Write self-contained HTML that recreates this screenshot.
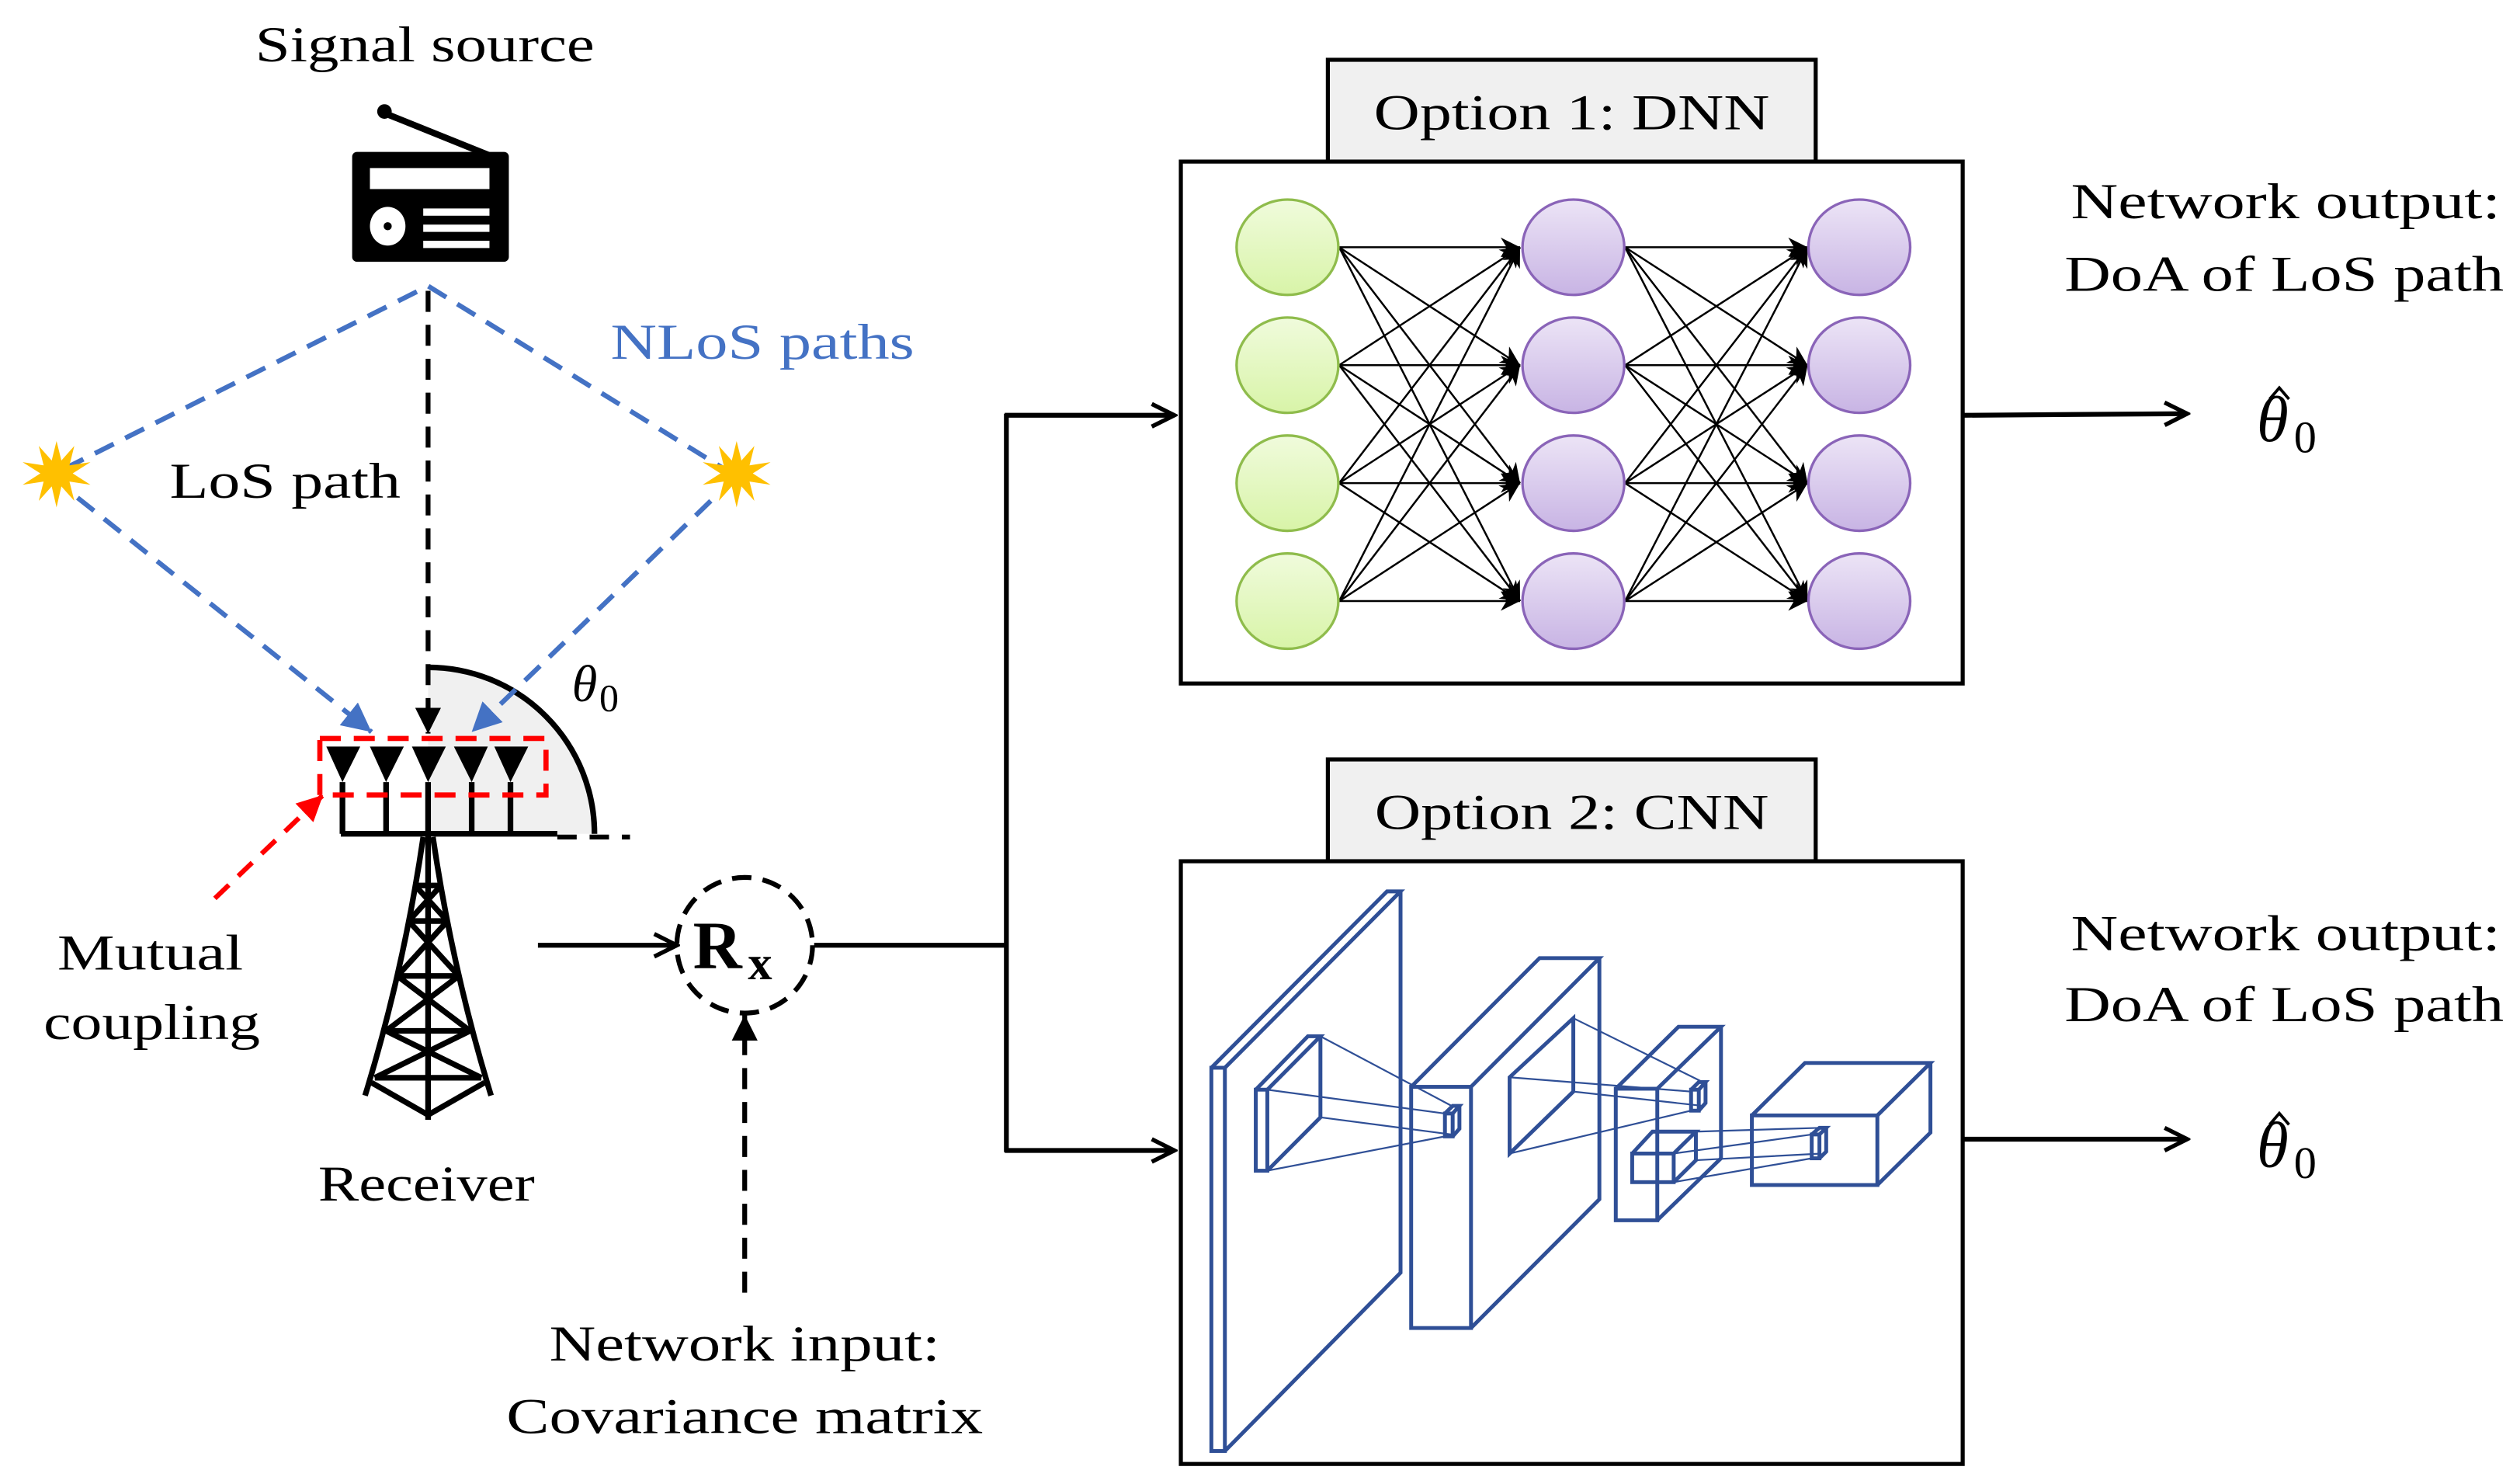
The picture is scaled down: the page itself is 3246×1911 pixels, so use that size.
<!DOCTYPE html>
<html><head><meta charset="utf-8"><style>
html,body{margin:0;padding:0;background:#fff;}
svg{display:block;}
text{font-family:"Liberation Serif",serif;}
</style></head><body>
<svg width="3246" height="1911" viewBox="0 0 1560 918.4" xmlns="http://www.w3.org/2000/svg">
<defs>
<marker id="open" viewBox="0 0 20 20" refX="18" refY="10" markerWidth="20" markerHeight="20" markerUnits="userSpaceOnUse" orient="auto"><path d="M4 3 L18 10 L4 17" fill="none" stroke="#000" stroke-width="2.6"/></marker>
<marker id="tri" viewBox="0 0 10 10" refX="10" refY="5" markerWidth="16" markerHeight="16" markerUnits="userSpaceOnUse" orient="auto"><path d="M0 0 L10 5 L0 10 z" fill="#000"/></marker>
<marker id="blue" viewBox="0 0 10 10" refX="10" refY="5" markerWidth="18" markerHeight="18" markerUnits="userSpaceOnUse" orient="auto"><path d="M0 0 L10 5 L0 10 z" fill="#4472c4"/></marker>
<marker id="red" viewBox="0 0 10 10" refX="10" refY="5" markerWidth="16" markerHeight="16" markerUnits="userSpaceOnUse" orient="auto"><path d="M0 0 L10 5 L0 10 z" fill="#f00"/></marker>
<marker id="sm" viewBox="0 0 10 10" refX="10" refY="5" markerWidth="12" markerHeight="12" markerUnits="userSpaceOnUse" orient="auto"><path d="M0 0 L10 5 L0 10 L3 5 z" fill="#000"/></marker>
<linearGradient id="g" x1="0" y1="0" x2="0" y2="1"><stop offset="0" stop-color="#f0fbdc"/><stop offset="1" stop-color="#d8f4a8"/></linearGradient>
<linearGradient id="p" x1="0" y1="0" x2="0" y2="1"><stop offset="0" stop-color="#ece4f6"/><stop offset="1" stop-color="#c8b4e4"/></linearGradient>
</defs>

<text x="263" y="38" font-size="31" text-anchor="middle" textLength="210" lengthAdjust="spacingAndGlyphs">Signal source</text>
<line x1="238" y1="70" x2="305" y2="97" stroke="#000" stroke-width="4"/>
<circle cx="238" cy="69" r="4.5"/>
<rect x="218" y="94" width="97" height="68" rx="3" fill="#000"/>
<rect x="229" y="104" width="74" height="13" fill="#fff"/>
<ellipse cx="240" cy="140" rx="11" ry="12" fill="#fff"/>
<circle cx="240" cy="140" r="2.5" fill="#000"/>
<rect x="262" y="129" width="41" height="4.5" fill="#fff"/>
<rect x="262" y="139" width="41" height="4.5" fill="#fff"/>
<rect x="262" y="149" width="41" height="4.5" fill="#fff"/>

<path d="M265 413 A103 103 0 0 1 368 516 L265 516 Z" fill="#f0f0f0"/>
<path d="M265 413 A103 103 0 0 1 368 516" fill="none" stroke="#000" stroke-width="3.5"/>
<line x1="345" y1="518" x2="390" y2="518" stroke="#000" stroke-width="3" stroke-dasharray="12,8"/>

<polyline points="40,290 265,177 448,290" fill="none" stroke="#4472c4" stroke-width="3" stroke-dasharray="13,8"/>
<line x1="265" y1="180" x2="265" y2="454" stroke="#000" stroke-width="3" stroke-dasharray="13,8" marker-end="url(#tri)"/>
<line x1="48" y1="308" x2="230" y2="453" stroke="#4472c4" stroke-width="3" stroke-dasharray="13,8" marker-end="url(#blue)"/>
<line x1="440" y1="310" x2="292" y2="453" stroke="#4472c4" stroke-width="3" stroke-dasharray="13,8" marker-end="url(#blue)"/>
<text x="378" y="222" font-size="31" fill="#4472c4" textLength="188" lengthAdjust="spacingAndGlyphs">NLoS paths</text>
<text x="105" y="308" font-size="31" textLength="143" lengthAdjust="spacingAndGlyphs">LoS path</text>
<text x="354" y="434" font-size="32" font-style="italic">θ</text><text x="371" y="440" font-size="24">0</text>

<g fill="#ffc000">
<polygon points="35,273 38,285 46,276 43,288 56,286 45,293 56,300 43,298 46,310 38,301 35,314 32,301 24,310 27,298 14,300 25,293 14,286 27,288 24,276 32,285"/>
<polygon points="456,273 459,285 467,276 464,288 477,286 466,293 477,300 464,298 467,310 459,301 456,314 453,301 445,310 448,298 435,300 446,293 435,286 448,288 445,276 453,285"/>
</g>

<g fill="#000">
<polygon points="202,462 223,462 212,484"/>
<polygon points="229,462 250,462 239,484"/>
<polygon points="255,462 276,462 265,484"/>
<polygon points="281,462 302,462 292,484"/>
<polygon points="306,462 327,462 316,484"/>
</g>
<g stroke="#000" stroke-width="3.5" fill="none">
<path d="M212 484V516M239 484V516M265 484V516M292 484V516M316 484V516"/>
<path d="M211 516H345"/>
</g>
<rect x="198" y="457" width="140" height="35" fill="none" stroke="#f00" stroke-width="3.2" stroke-dasharray="13,8"/>
<line x1="133" y1="556" x2="200" y2="492" stroke="#f00" stroke-width="3" stroke-dasharray="12,8" marker-end="url(#red)"/>

<g stroke="#000" stroke-width="3.5" fill="none">
<path d="M265 516 V693"/>
<path d="M262 518 Q250 600 226 678"/>
<path d="M268 518 Q280 600 304 678"/>
<path d="M257 548H273M253 570H277M246 604H284M239 638H291M232 667H298"/>
<path d="M257 548L277 570M273 548L253 570M253 570L284 604M277 570L246 604M246 604L291 638M284 604L239 638M239 638L298 667M291 638L232 667"/>
<path d="M230 670L265 690L300 670"/>
</g>
<text x="93" y="600" font-size="31" text-anchor="middle" textLength="115" lengthAdjust="spacingAndGlyphs">Mutual</text>
<text x="94" y="643" font-size="31" text-anchor="middle" textLength="134" lengthAdjust="spacingAndGlyphs">coupling</text>
<text x="264" y="743" font-size="31" text-anchor="middle" textLength="134" lengthAdjust="spacingAndGlyphs">Receiver</text>

<line x1="333" y1="585" x2="419" y2="585" stroke="#000" stroke-width="3" marker-end="url(#open)"/>
<circle cx="461" cy="585" r="42" fill="none" stroke="#000" stroke-width="3" stroke-dasharray="12,7"/>
<text x="429" y="599" font-size="42" font-weight="bold">R</text><text x="463" y="606" font-size="30" font-weight="bold">x</text>
<line x1="461" y1="800" x2="461" y2="628" stroke="#000" stroke-width="3" stroke-dasharray="13,8" marker-end="url(#tri)"/>
<text x="461" y="842" font-size="31" text-anchor="middle" textLength="242" lengthAdjust="spacingAndGlyphs">Network input:</text>
<text x="461" y="887" font-size="31" text-anchor="middle" textLength="295" lengthAdjust="spacingAndGlyphs">Covariance matrix</text>
<polyline points="504,585 623,585" fill="none" stroke="#000" stroke-width="3"/>
<line x1="623" y1="256" x2="623" y2="713" stroke="#000" stroke-width="3"/>
<line x1="622" y1="257" x2="727" y2="257" stroke="#000" stroke-width="3" marker-end="url(#open)"/>
<line x1="622" y1="712" x2="727" y2="712" stroke="#000" stroke-width="3" marker-end="url(#open)"/>

<rect x="822" y="37" width="302" height="63" fill="#f0f0f0" stroke="#000" stroke-width="2.5"/>
<text x="973" y="80" font-size="31" text-anchor="middle" textLength="245" lengthAdjust="spacingAndGlyphs">Option 1: DNN</text>
<rect x="731" y="100" width="484" height="323" fill="#fff" stroke="#000" stroke-width="2.5"/>
<g stroke="#000" stroke-width="1.2" marker-end="url(#sm)">
<line x1="829" y1="153" x2="941" y2="153"/><line x1="829" y1="153" x2="941" y2="226"/><line x1="829" y1="153" x2="941" y2="299"/><line x1="829" y1="153" x2="941" y2="372"/>
<line x1="829" y1="226" x2="941" y2="153"/><line x1="829" y1="226" x2="941" y2="226"/><line x1="829" y1="226" x2="941" y2="299"/><line x1="829" y1="226" x2="941" y2="372"/>
<line x1="829" y1="299" x2="941" y2="153"/><line x1="829" y1="299" x2="941" y2="226"/><line x1="829" y1="299" x2="941" y2="299"/><line x1="829" y1="299" x2="941" y2="372"/>
<line x1="829" y1="372" x2="941" y2="153"/><line x1="829" y1="372" x2="941" y2="226"/><line x1="829" y1="372" x2="941" y2="299"/><line x1="829" y1="372" x2="941" y2="372"/>
<line x1="1006" y1="153" x2="1119" y2="153"/><line x1="1006" y1="153" x2="1119" y2="226"/><line x1="1006" y1="153" x2="1119" y2="299"/><line x1="1006" y1="153" x2="1119" y2="372"/>
<line x1="1006" y1="226" x2="1119" y2="153"/><line x1="1006" y1="226" x2="1119" y2="226"/><line x1="1006" y1="226" x2="1119" y2="299"/><line x1="1006" y1="226" x2="1119" y2="372"/>
<line x1="1006" y1="299" x2="1119" y2="153"/><line x1="1006" y1="299" x2="1119" y2="226"/><line x1="1006" y1="299" x2="1119" y2="299"/><line x1="1006" y1="299" x2="1119" y2="372"/>
<line x1="1006" y1="372" x2="1119" y2="153"/><line x1="1006" y1="372" x2="1119" y2="226"/><line x1="1006" y1="372" x2="1119" y2="299"/><line x1="1006" y1="372" x2="1119" y2="372"/>
</g>
<g stroke-width="1.6">
<g fill="url(#g)" stroke="#8fbc4c">
<ellipse cx="797" cy="153" rx="31.5" ry="29.5"/><ellipse cx="797" cy="226" rx="31.5" ry="29.5"/><ellipse cx="797" cy="299" rx="31.5" ry="29.5"/><ellipse cx="797" cy="372" rx="31.5" ry="29.5"/>
</g>
<g fill="url(#p)" stroke="#8a64b8">
<ellipse cx="974" cy="153" rx="31.5" ry="29.5"/><ellipse cx="974" cy="226" rx="31.5" ry="29.5"/><ellipse cx="974" cy="299" rx="31.5" ry="29.5"/><ellipse cx="974" cy="372" rx="31.5" ry="29.5"/>
<ellipse cx="1151" cy="153" rx="31.5" ry="29.5"/><ellipse cx="1151" cy="226" rx="31.5" ry="29.5"/><ellipse cx="1151" cy="299" rx="31.5" ry="29.5"/><ellipse cx="1151" cy="372" rx="31.5" ry="29.5"/>
</g>
</g>
<line x1="1216" y1="257" x2="1354" y2="256" stroke="#000" stroke-width="3" marker-end="url(#open)"/>
<text x="1415" y="135" font-size="31" text-anchor="middle" textLength="266" lengthAdjust="spacingAndGlyphs">Network output:</text>
<text x="1414" y="180" font-size="31" text-anchor="middle" textLength="272" lengthAdjust="spacingAndGlyphs">DoA of LoS path</text>
<text x="1397" y="273" font-size="40" font-style="italic">θ</text>
<path d="M1405 247 L1411 240 L1417 247" fill="none" stroke="#000" stroke-width="1.8"/>
<text x="1420" y="280" font-size="28">0</text>

<rect x="822" y="470" width="302" height="63" fill="#f0f0f0" stroke="#000" stroke-width="2.5"/>
<text x="973" y="513" font-size="31" text-anchor="middle" textLength="244" lengthAdjust="spacingAndGlyphs">Option 2: CNN</text>
<rect x="731" y="533" width="484" height="373" fill="#fff" stroke="#000" stroke-width="2.5"/>
<line x1="1216" y1="705" x2="1354" y2="705" stroke="#000" stroke-width="3" marker-end="url(#open)"/>
<text x="1415" y="588" font-size="31" text-anchor="middle" textLength="266" lengthAdjust="spacingAndGlyphs">Network output:</text>
<text x="1414" y="632" font-size="31" text-anchor="middle" textLength="272" lengthAdjust="spacingAndGlyphs">DoA of LoS path</text>
<text x="1397" y="722" font-size="40" font-style="italic">θ</text>
<path d="M1405 696 L1411 689 L1417 696" fill="none" stroke="#000" stroke-width="1.8"/>
<text x="1420" y="729" font-size="28">0</text>

<g transform="matrix(0.5975,0,0,0.59,628.6,0)" fill="none" stroke="#2f4f96" stroke-width="4">
<rect x="203" y="1120" width="14" height="402"/>
<path d="M203 1120L385 935H399L217 1120M399 935V1335L217 1522"/>
<rect x="249" y="1143" width="12" height="85"/>
<path d="M249 1143L303 1087H316L261 1143M316 1087V1172L261 1228"/>
<g stroke-width="1.8"><path d="M316 1087L452 1160M316 1172L452 1190M261 1143L445 1168M261 1228L445 1192"/></g>
<rect x="410" y="1140" width="62" height="253"/>
<path d="M410 1140L543 1005H605L472 1140M605 1005V1258L472 1393"/>
<rect x="445" y="1168" width="8" height="24"/><path d="M445 1168L453 1160H460L453 1168M460 1160V1184L453 1192"/>
<path d="M512 1130L578 1068V1145L512 1210Z"/>
<g stroke-width="1.8"><path d="M578 1068L712 1135M578 1145L712 1160M512 1130L700 1145M512 1210L700 1165"/></g>
<rect x="622" y="1142" width="43" height="138"/>
<path d="M622 1142L687 1077H731L665 1142M731 1077V1215L665 1280"/>
<rect x="700" y="1143" width="8" height="22"/><path d="M700 1143L708 1135H715L708 1143M715 1135V1157L708 1165"/>
<rect x="639" y="1210" width="43" height="30"/>
<path d="M639 1210L660 1187H705L682 1210M705 1187V1217L682 1240"/>
<g stroke-width="1.8"><path d="M705 1187L835 1183M705 1217L835 1210M682 1210L825 1190M682 1240L825 1215"/></g>
<rect x="763" y="1170" width="130" height="73"/>
<path d="M763 1170L818 1115H948L893 1170M948 1115V1188L893 1243"/>
<rect x="825" y="1190" width="8" height="25"/><path d="M825 1190L833 1183H840L833 1190M840 1183V1208L833 1215"/>
</g>
</svg>
</body></html>
